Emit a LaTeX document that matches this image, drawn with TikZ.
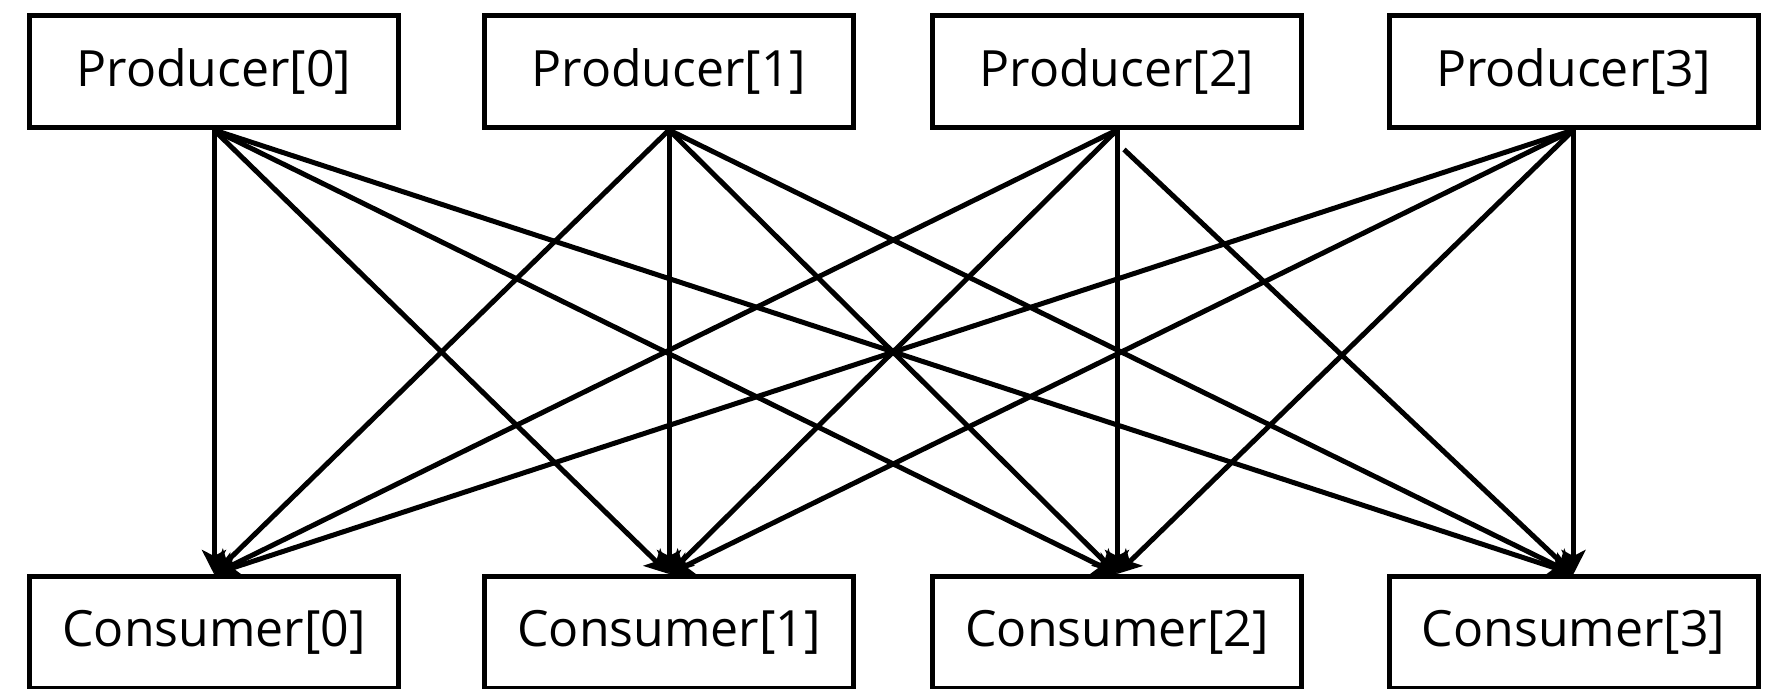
\documentclass[tikz,border=0pt]{standalone}
\usepackage{fontspec}
\setmainfont{Open Sans}
\usetikzlibrary{arrows.meta}
\begin{document}
\begin{tikzpicture}[x=0.5pt,y=-0.5pt,
  box/.style={draw, line width=2.5pt, minimum width=184.5pt, minimum height=56pt,
    inner sep=0pt, font=\fontsize{25}{30}\selectfont},
  link/.style={line width=2.5pt, -{Stealth[length=12pt,width=12pt,inset=3pt]}}]
\useasboundingbox (0,0) rectangle (1772,689);
% producers on top, consumers below
\foreach \i/\x in {0/214,1/669,2/1117,3/1573.5} {
  \node[box] (p\i) at (\x,71.5) {Producer[\i]};
  \node[box] (c\i) at (\x,632.5) {Consumer[\i]};
}
% every producer feeds every consumer
\foreach \i in {0,1,3} {
  \foreach \j in {0,...,3} {
    \draw[link] (p\i.south) -- (c\j.north);
  }
}
\foreach \j in {0,1,2} {
  \draw[link] (p2.south) -- (c\j.north);
}
% this link starts a little below the producer box
\coordinate (p2start) at (1124,149.5);
\draw[link] (p2start) -- (c3.north);
\end{tikzpicture}
\end{document}
